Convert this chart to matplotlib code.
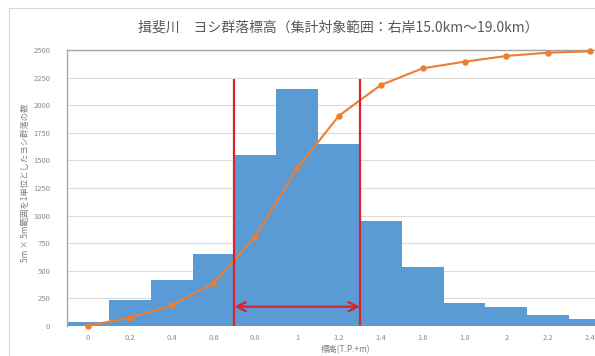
import matplotlib
matplotlib.use("Agg")
import matplotlib.pyplot as plt
from matplotlib.patches import Rectangle

plt.rcParams['font.family'] = ['Noto Sans CJK JP', 'DejaVu Sans']

# Elevation classes (T.P.+m), bin width 0.2 m
elevations = [0.0, 0.2, 0.4, 0.6, 0.8, 1.0, 1.2, 1.4, 1.6, 1.8, 2.0, 2.2, 2.4]
tick_labels = ["0", "0.2", "0.4", "0.6", "0.8", "1", "1.2", "1.4", "1.6", "1.8", "2", "2.2", "2.4"]
# Number of reed colonies (5m x 5m units) per elevation class
counts = [35, 238, 414, 650, 1550, 2150, 1650, 954, 537, 211, 172, 97, 61]
# Cumulative curve
cumulative = [3, 75, 187, 387, 810, 1428, 1905, 2183, 2334, 2394, 2446, 2476, 2488]
# Main range bounds (m) and marker heights
range_low, range_high = 0.7, 1.3
range_line_top = 2235
arrow_level = 175

bar_color = "#5B9BD5"
line_color = "#ED7D31"
red = "#D8232C"
tick_color = "#8C8C8C"

fig = plt.figure(figsize=(5.95, 3.56), dpi=100)
fig.patch.set_facecolor("white")

# Chart area border
fig.add_artist(Rectangle((9 / 595, -0.05), 1.1, 1 - 8 / 356 + 0.05,
                         transform=fig.transFigure, fill=False,
                         edgecolor="#D9D9D9", linewidth=0.8))

ax = fig.add_axes([67 / 595, 1 - 326 / 356, (611 - 67) / 595, (326 - 50) / 356])
ax.set_xlim(-0.1, 2.5)
ax.set_ylim(0, 2500)

ax.bar(elevations, counts, width=0.2, color=bar_color, zorder=2, linewidth=0)
ax.plot(elevations, cumulative, color=line_color, linewidth=1.5, marker="o",
        markersize=3.6, zorder=4, clip_on=False)

# Main range markers
ax.vlines([range_low, range_high], 0, range_line_top, colors=red, linewidth=1.6, zorder=5)
ax.annotate("", xy=(range_high, arrow_level), xytext=(range_low, arrow_level),
            arrowprops=dict(arrowstyle="<->", color=red, lw=1.6,
                            mutation_scale=16, shrinkA=0, shrinkB=0),
            zorder=6)

ax.set_yticks(range(0, 2501, 250))
ax.set_xticks(elevations)
ax.set_xticklabels(tick_labels)
ax.tick_params(axis="both", length=0, labelsize=5.5, labelcolor=tick_color)
ax.tick_params(axis="x", pad=6)
ax.tick_params(axis="y", pad=12)
ax.grid(axis="y", color="#DCDCDC", linewidth=0.8, zorder=0)
ax.set_axisbelow(True)

for side in ["right", "bottom"]:
    ax.spines[side].set_visible(False)
ax.spines["left"].set_color("#A6A6A6")
ax.spines["top"].set_color("#A6A6A6")
ax.spines["left"].set_linewidth(1.0)
ax.spines["top"].set_linewidth(1.0)

ax.set_ylabel("5m × 5m範囲を1単位としたヨシ群落の数", fontsize=6, color="#7F7F7F")
ax.yaxis.set_label_coords((30 - 67) / 544, 0.52)
fig.text(345 / 595, 1 - 350 / 356, "標高(T.P.+m)", fontsize=6, color="#7F7F7F",
         ha="center", va="center")
fig.text(338 / 595, 1 - 28 / 356, "揖斐川　ヨシ群落標高（集計対象範囲：右岸15.0km〜19.0km）",
         fontsize=10, color="#595959", ha="center", va="center")

fig.savefig("out.png", dpi=100)
